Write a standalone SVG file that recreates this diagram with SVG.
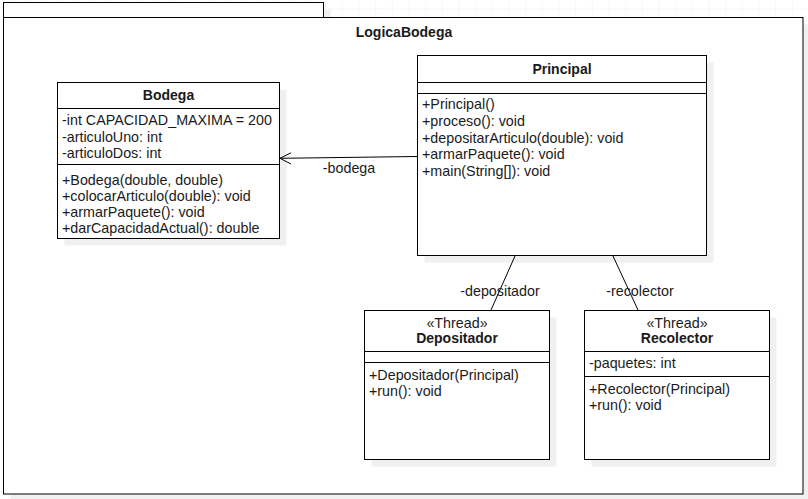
<svg xmlns="http://www.w3.org/2000/svg" width="808" height="499" viewBox="0 0 808 499">
  <defs>
    <pattern id="grid" x="8.33" y="8.33" width="16.67" height="16.67" patternUnits="userSpaceOnUse">
      <path d="M 16.67 0 L 0 0 0 16.67" fill="none" stroke="#efefef" stroke-width="1"/>
    </pattern>
  </defs>
  <style>
    .box { fill: #ffffff; stroke: #000000; stroke-width: 1; }
    .shadow { fill: #f0f0f0; stroke: none; }
    .div { stroke: #000000; stroke-width: 1; fill: none; }
    .edge { stroke: #000000; stroke-width: 1; fill: none; }
    text { font-family: "Liberation Sans", Arial, Helvetica, sans-serif; font-size: 14.3px; fill: #1a1a1a; }
    .title { font-weight: bold; font-size: 14px; text-anchor: middle; }
    .stereo { text-anchor: middle; }
    .mid { text-anchor: middle; }
  </style>

  <rect x="0" y="0" width="808" height="499" fill="#ffffff"/>
  <rect x="0" y="0" width="808" height="499" fill="url(#grid)"/>

  <!-- package LogicaBodega -->
  <g id="pkg-LogicaBodega">
    <rect class="shadow" x="10.5" y="9.5" width="320" height="15"/>
    <rect class="shadow" x="10.5" y="24.5" width="799.5" height="476.5"/>
    <rect class="box" x="3.5" y="2.5" width="320" height="15"/>
    <rect class="box" x="3.5" y="17.5" width="799.5" height="476.5"/>
    <text class="title" x="404" y="37">LogicaBodega</text>
  </g>

  <!-- class Bodega -->
  <g id="node-Bodega">
    <rect class="shadow" x="64.5" y="89.5" width="222" height="156"/>
    <rect class="box" x="57.5" y="82.5" width="222" height="156"/>
    <line class="div" x1="57.5" y1="108.5" x2="279.5" y2="108.5"/>
    <line class="div" x1="57.5" y1="164.5" x2="279.5" y2="164.5"/>
    <text class="title" x="168.5" y="100">Bodega</text>
    <text x="62" y="125">-int CAPACIDAD_MAXIMA = 200</text>
    <text x="62" y="142">-articuloUno: int</text>
    <text x="62" y="158">-articuloDos: int</text>
    <text x="62" y="185">+Bodega(double, double)</text>
    <text x="62" y="201">+colocarArticulo(double): void</text>
    <text x="62" y="217">+armarPaquete(): void</text>
    <text x="62" y="233">+darCapacidadActual(): double</text>
  </g>

  <!-- class Principal -->
  <g id="node-Principal">
    <rect class="shadow" x="424.5" y="62.5" width="289" height="200"/>
    <rect class="box" x="417.5" y="55.5" width="289" height="200"/>
    <line class="div" x1="417.5" y1="82.5" x2="706.5" y2="82.5"/>
    <line class="div" x1="417.5" y1="93.5" x2="706.5" y2="93.5"/>
    <text class="title" x="562" y="74">Principal</text>
    <text x="422" y="109">+Principal()</text>
    <text x="422" y="126">+proceso(): void</text>
    <text x="422" y="143">+depositarArticulo(double): void</text>
    <text x="422" y="159">+armarPaquete(): void</text>
    <text x="422" y="176">+main(String[]): void</text>
  </g>

  <!-- class Depositador -->
  <g id="node-Depositador">
    <rect class="shadow" x="371.5" y="317.5" width="185" height="149"/>
    <rect class="box" x="364.5" y="310.5" width="185" height="149"/>
    <line class="div" x1="364.5" y1="351.5" x2="549.5" y2="351.5"/>
    <line class="div" x1="364.5" y1="362.5" x2="549.5" y2="362.5"/>
    <text class="stereo" x="457" y="328">«Thread»</text>
    <text class="title" x="457" y="343">Depositador</text>
    <text x="369" y="380">+Depositador(Principal)</text>
    <text x="369" y="396">+run(): void</text>
  </g>

  <!-- class Recolector -->
  <g id="node-Recolector">
    <rect class="shadow" x="591.5" y="317.5" width="185" height="149"/>
    <rect class="box" x="584.5" y="310.5" width="185" height="149"/>
    <line class="div" x1="584.5" y1="351.5" x2="769.5" y2="351.5"/>
    <line class="div" x1="584.5" y1="376.5" x2="769.5" y2="376.5"/>
    <text class="stereo" x="677" y="328">«Thread»</text>
    <text class="title" x="677" y="343">Recolector</text>
    <text x="589" y="368">-paquetes: int</text>
    <text x="589" y="394">+Recolector(Principal)</text>
    <text x="589" y="410">+run(): void</text>
  </g>

  <!-- associations -->
  <g id="edges">
    <line class="edge" x1="417" y1="156.5" x2="280" y2="158.3"/>
    <polyline class="edge" points="291,152.8 280,158.3 291,164"/>
    <text class="mid" x="349" y="173">-bodega</text>

    <line class="edge" x1="515" y1="256" x2="491" y2="310"/>
    <text class="mid" x="500" y="296">-depositador</text>

    <line class="edge" x1="613" y1="256" x2="638" y2="310"/>
    <text class="mid" x="640" y="296">-recolector</text>
  </g>
</svg>
